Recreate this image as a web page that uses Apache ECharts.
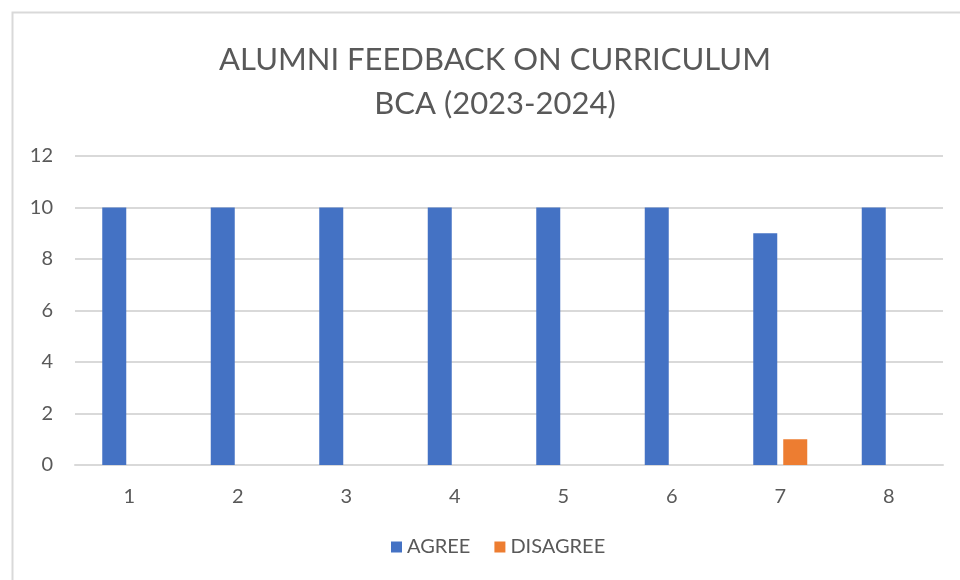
<!DOCTYPE html>
<html>
<head>
<meta charset="utf-8">
<script src="https://cdn.jsdelivr.net/npm/echarts@6/dist/echarts.min.js"></script>
<style>html,body{margin:0;padding:0;background:#fff}#c{width:960px;height:580px}</style>
</head>
<body>
<div id="c"></div>
<script>
var categories = ['1','2','3','4','5','6','7','8'];
var agree = [10,10,10,10,10,10,9,10];
var disagree = [0,0,0,0,0,0,1,0];
var titleLines = ['ALUMNI FEEDBACK ON CURRICULUM','BCA (2023-2024)'];

var chart = echarts.init(document.getElementById('c'), null, {renderer:'canvas'});
var font = 'Lato';
chart.setOption({
  animation:false,
  backgroundColor:'#fff',
  textStyle:{fontFamily:font,fontSize:19,color:'#595959'},
  graphic:[{type:'rect',left:10,top:10,shape:{width:960,height:580},style:{fill:'none',stroke:'#d9d9d9',lineWidth:2},z:-1}],
  title:{text:titleLines.join('\n'),left:490,textAlign:'center',top:33,textStyle:{fontFamily:font,fontSize:31,fontWeight:'normal',color:'#595959',lineHeight:44}},
  legend:{bottom:18,left:386,itemWidth:11,itemHeight:11,itemGap:24,icon:'rect',textStyle:{fontFamily:font,fontSize:20,color:'#595959'},data:['AGREE','DISAGREE']},
  grid:{left:75,right:17,top:156,bottom:115},
  xAxis:{type:'category',data:categories,axisTick:{show:false},axisLine:{lineStyle:{color:'#d9d9d9',width:2}},axisLabel:{fontFamily:font,fontSize:20,color:'#595959',margin:22}},
  yAxis:{type:'value',min:0,max:12,interval:2,axisLine:{show:false},axisTick:{show:false},splitLine:{lineStyle:{color:'#d9d9d9',width:2}},axisLabel:{fontFamily:font,fontSize:20,color:'#595959',margin:22}},
  series:[
    {name:'AGREE',type:'bar',data:agree,itemStyle:{color:'#4472C4'},barWidth:24,barGap:'25%'},
    {name:'DISAGREE',type:'bar',data:disagree,itemStyle:{color:'#ED7D31'},barWidth:24}
  ]
});
</script>
</body>
</html>
